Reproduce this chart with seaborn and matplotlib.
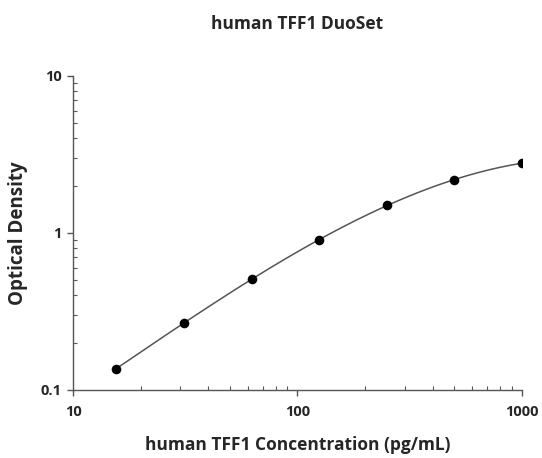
import matplotlib
matplotlib.use("Agg")
import matplotlib.pyplot as plt
import matplotlib.ticker as mticker
import numpy as np
import pandas as pd
import seaborn as sns

# Standard curve (pg/mL vs OD)
CONCENTRATION = [15.6, 31.25, 62.5, 125, 250, 500, 1000]
OPTICAL_DENSITY = [0.137, 0.267, 0.509, 0.902, 1.51, 2.17, 2.79]
X_TICKS = [10, 100, 1000]
Y_TICKS = [0.1, 1, 10]

sns.set_theme(style="ticks")
plt.rcParams["font.family"] = ["Open Sans", "DejaVu Sans"]

df = pd.DataFrame({"conc": CONCENTRATION, "od": OPTICAL_DENSITY})

# smooth fit in log-log space for the standard curve
coef = np.polyfit(np.log10(df["conc"]), np.log10(df["od"]), 3)
grid = np.logspace(np.log10(df["conc"].min()), np.log10(df["conc"].max()), 200)
fit = pd.DataFrame({"conc": grid, "od": 10 ** np.polyval(coef, np.log10(grid))})

fig = plt.figure(figsize=(5.42, 4.58), dpi=100)
ax = fig.add_axes([0.1347, 0.1485, 0.8283, 0.6856])

sns.lineplot(data=fit, x="conc", y="od", ax=ax, color="#555555", lw=1.1)
sns.scatterplot(data=df, x="conc", y="od", ax=ax, color="black", s=48,
                edgecolor="black", linewidth=0, zorder=3)

ax.set_xscale("log"); ax.set_yscale("log")
ax.set_xlim(10, 1000); ax.set_ylim(0.1, 10)
ax.set_xticks(X_TICKS); ax.set_yticks(Y_TICKS)
ax.xaxis.set_major_formatter(mticker.FuncFormatter(lambda v, _: f"{v:g}"))
ax.yaxis.set_major_formatter(mticker.FuncFormatter(lambda v, _: f"{v:g}"))
ax.xaxis.set_minor_locator(mticker.LogLocator(subs=np.arange(2, 10)))
ax.yaxis.set_minor_locator(mticker.LogLocator(subs=np.arange(2, 10)))
ax.xaxis.set_minor_formatter(mticker.NullFormatter())
ax.yaxis.set_minor_formatter(mticker.NullFormatter())

sns.despine(ax=ax)
for sp in ("left", "bottom"):
    ax.spines[sp].set_color("#555555"); ax.spines[sp].set_linewidth(1.0)
ax.tick_params(which="major", direction="out", length=4, width=1, color="#555555",
               labelsize=10.5)
ax.tick_params(axis="x", which="major", pad=7)
ax.tick_params(axis="y", which="major", pad=4)
ax.tick_params(which="minor", direction="in", length=3, width=0.8, color="#555555")
for lab in ax.get_xticklabels() + ax.get_yticklabels():
    lab.set_fontweight("bold")

ax.set_xlabel("human TFF1 Concentration (pg/mL)", fontsize=12.5, fontweight="bold", labelpad=12)
ax.set_ylabel("Optical Density", fontsize=13.5, fontweight="bold", labelpad=9)
ax.set_title("human TFF1 DuoSet", fontsize=12.5, fontweight="bold", pad=34)

fig.savefig("out.png", dpi=100)
